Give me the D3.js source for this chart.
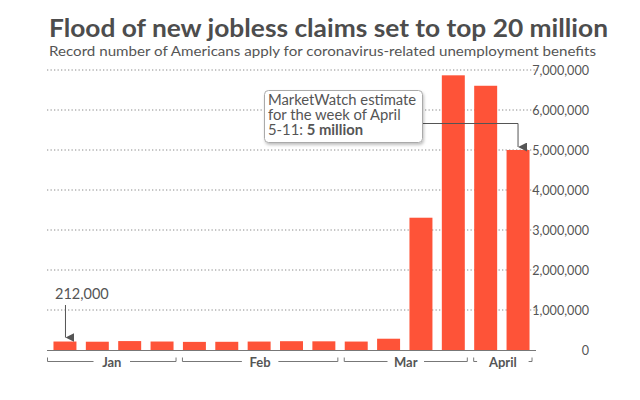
<!DOCTYPE html>
<html><head><meta charset="utf-8">
<script src="https://cdn.jsdelivr.net/npm/d3@7"></script>
<style>body{margin:0;background:#fff;}svg{display:block;font-family:Lato,"Open Sans",sans-serif;}</style>
</head><body>
<svg id="c" width="640" height="400"></svg>
<script>
const weeks = ["Jan 4","Jan 11","Jan 18","Jan 25","Feb 1","Feb 8","Feb 15","Feb 22","Feb 29","Mar 7","Mar 14","Mar 21","Mar 28","Apr 4","Apr 11"];
const claims = [212000,207000,223000,212000,203000,205000,211000,220000,217000,211000,282000,3307000,6867000,6606000,5000000];
const months = ["Jan","Feb","Mar","April"];
const monthWeeks = [["Jan 4","Jan 25"],["Feb 1","Feb 29"],["Mar 7","Mar 28"],["Apr 4","Apr 11"]];
const yTicks = [0,1000000,2000000,3000000,4000000,5000000,6000000,7000000];
const title = "Flood of new jobless claims set to top 20 million";
const subtitle = "Record number of Americans apply for coronavirus-related unemployment benefits";

const svg = d3.select("#c");
const ink = "#555";
const barColor = "#fe5338";

const x = d3.scaleBand().domain(weeks).range([47,536]).paddingInner(0.29).paddingOuter(0.2);
const y = d3.scaleLinear().domain([0,7000000]).range([350,70]);

svg.append("defs").html(`
<marker id="ah" viewBox="0 0 10 10" refX="5" refY="10" markerWidth="9" markerHeight="9" orient="auto-start-reverse" markerUnits="userSpaceOnUse">
<path d="M0,0 L10,0 L5,10 Z" fill="#555"/></marker>
<filter id="sh" x="-10%" y="-10%" width="130%" height="140%"><feDropShadow dx="1" dy="2" stdDeviation="1.5" flood-color="#000" flood-opacity="0.25"/></filter>`);

svg.append("text").attr("x",49).attr("y",37).attr("fill","#4d4d4d")
  .attr("font-size",24).attr("font-weight",700)
  .attr("textLength",559).attr("lengthAdjust","spacingAndGlyphs").text(title);
svg.append("text").attr("x",49).attr("y",56).attr("fill",ink)
  .attr("font-size",14).attr("textLength",547).attr("lengthAdjust","spacingAndGlyphs").text(subtitle);

// gridlines
svg.append("g").selectAll("line").data(yTicks.filter(d=>d>0)).join("line")
  .attr("x1",47).attr("x2",538).attr("y1",d=>y(d)).attr("y2",d=>y(d))
  .attr("stroke","#8a8a8a").attr("stroke-width",1).attr("stroke-dasharray","1.3,2.2");

// right axis
const yAxis = d3.axisRight(y).tickValues(yTicks).tickSize(0).tickPadding(0)
  .tickFormat(d=>d3.format(",")(d));
const ag = svg.append("g").attr("transform","translate(589,0)").call(yAxis);
ag.select(".domain").remove();
ag.selectAll("text").attr("text-anchor","end").attr("fill",ink)
  .attr("font-size",12.6).attr("font-family","Lato,sans-serif").attr("dy","0.35em");

// bars
svg.append("g").selectAll("rect").data(weeks).join("rect")
  .attr("x",d=>x(d)).attr("width",x.bandwidth())
  .attr("y",(d,i)=>y(claims[i])).attr("height",(d,i)=>y(0)-y(claims[i]))
  .attr("fill",barColor);

// baseline
svg.append("line").attr("x1",47).attr("x2",536).attr("y1",y(0)+0.5).attr("y2",y(0)+0.5)
  .attr("stroke","#777").attr("stroke-width",1);

// month brackets
const bg = svg.append("g");
months.forEach((m,i)=>{
  const x0 = i===0 ? x.range()[0] : x(monthWeeks[i][0]) - 1;
  const x1 = x(monthWeeks[i][1]) + x.bandwidth() + 3;
  const cx = (x0+x1)/2;
  const by = 361.5;
  const tw = m.length*7.5 + 14;
  const g = bg.append("g").attr("stroke","#777").attr("fill","none");
  g.append("path").attr("d",`M${x0+0.5},${by-4}V${by}H${cx-tw/2}`);
  g.append("path").attr("d",`M${cx+tw/2},${by}H${x1-0.5}V${by-4}`);
  bg.append("text").attr("x",cx).attr("y",by+5).attr("text-anchor","middle")
    .attr("fill",ink).attr("font-size",13).attr("font-weight",700).text(m);
});

// 212,000 annotation
const fx = x(weeks[0]) + 12;
svg.append("text").attr("x",55).attr("y",299).attr("fill",ink).attr("font-size",14.5).text(d3.format(",")(claims[0]));
svg.append("line").attr("x1",fx).attr("x2",fx).attr("y1",305).attr("y2",y(claims[0])-4)
  .attr("stroke","#555").attr("marker-end","url(#ah)");

// MarketWatch callout
const lx = x(weeks[14]) + x.bandwidth()/2;
svg.append("path").attr("d",`M423,123.5H${lx}V${y(claims[14])-3}`)
  .attr("fill","none").attr("stroke","#555").attr("marker-end","url(#ah)");
svg.append("rect").attr("x",264.5).attr("y",90.5).attr("width",158).attr("height",52).attr("rx",4)
  .attr("fill","#fff").attr("stroke","#aaa").attr("filter","url(#sh)");
const t = svg.append("text").attr("fill",ink).attr("font-size",14.8);
t.append("tspan").attr("x",268).attr("y",105).text("MarketWatch estimate");
t.append("tspan").attr("x",268).attr("y",120).text("for the week of April");
t.append("tspan").attr("x",268).attr("y",135).text("5-11: ");
t.append("tspan").attr("font-weight",700).text("5 million");
</script>
</body></html>
